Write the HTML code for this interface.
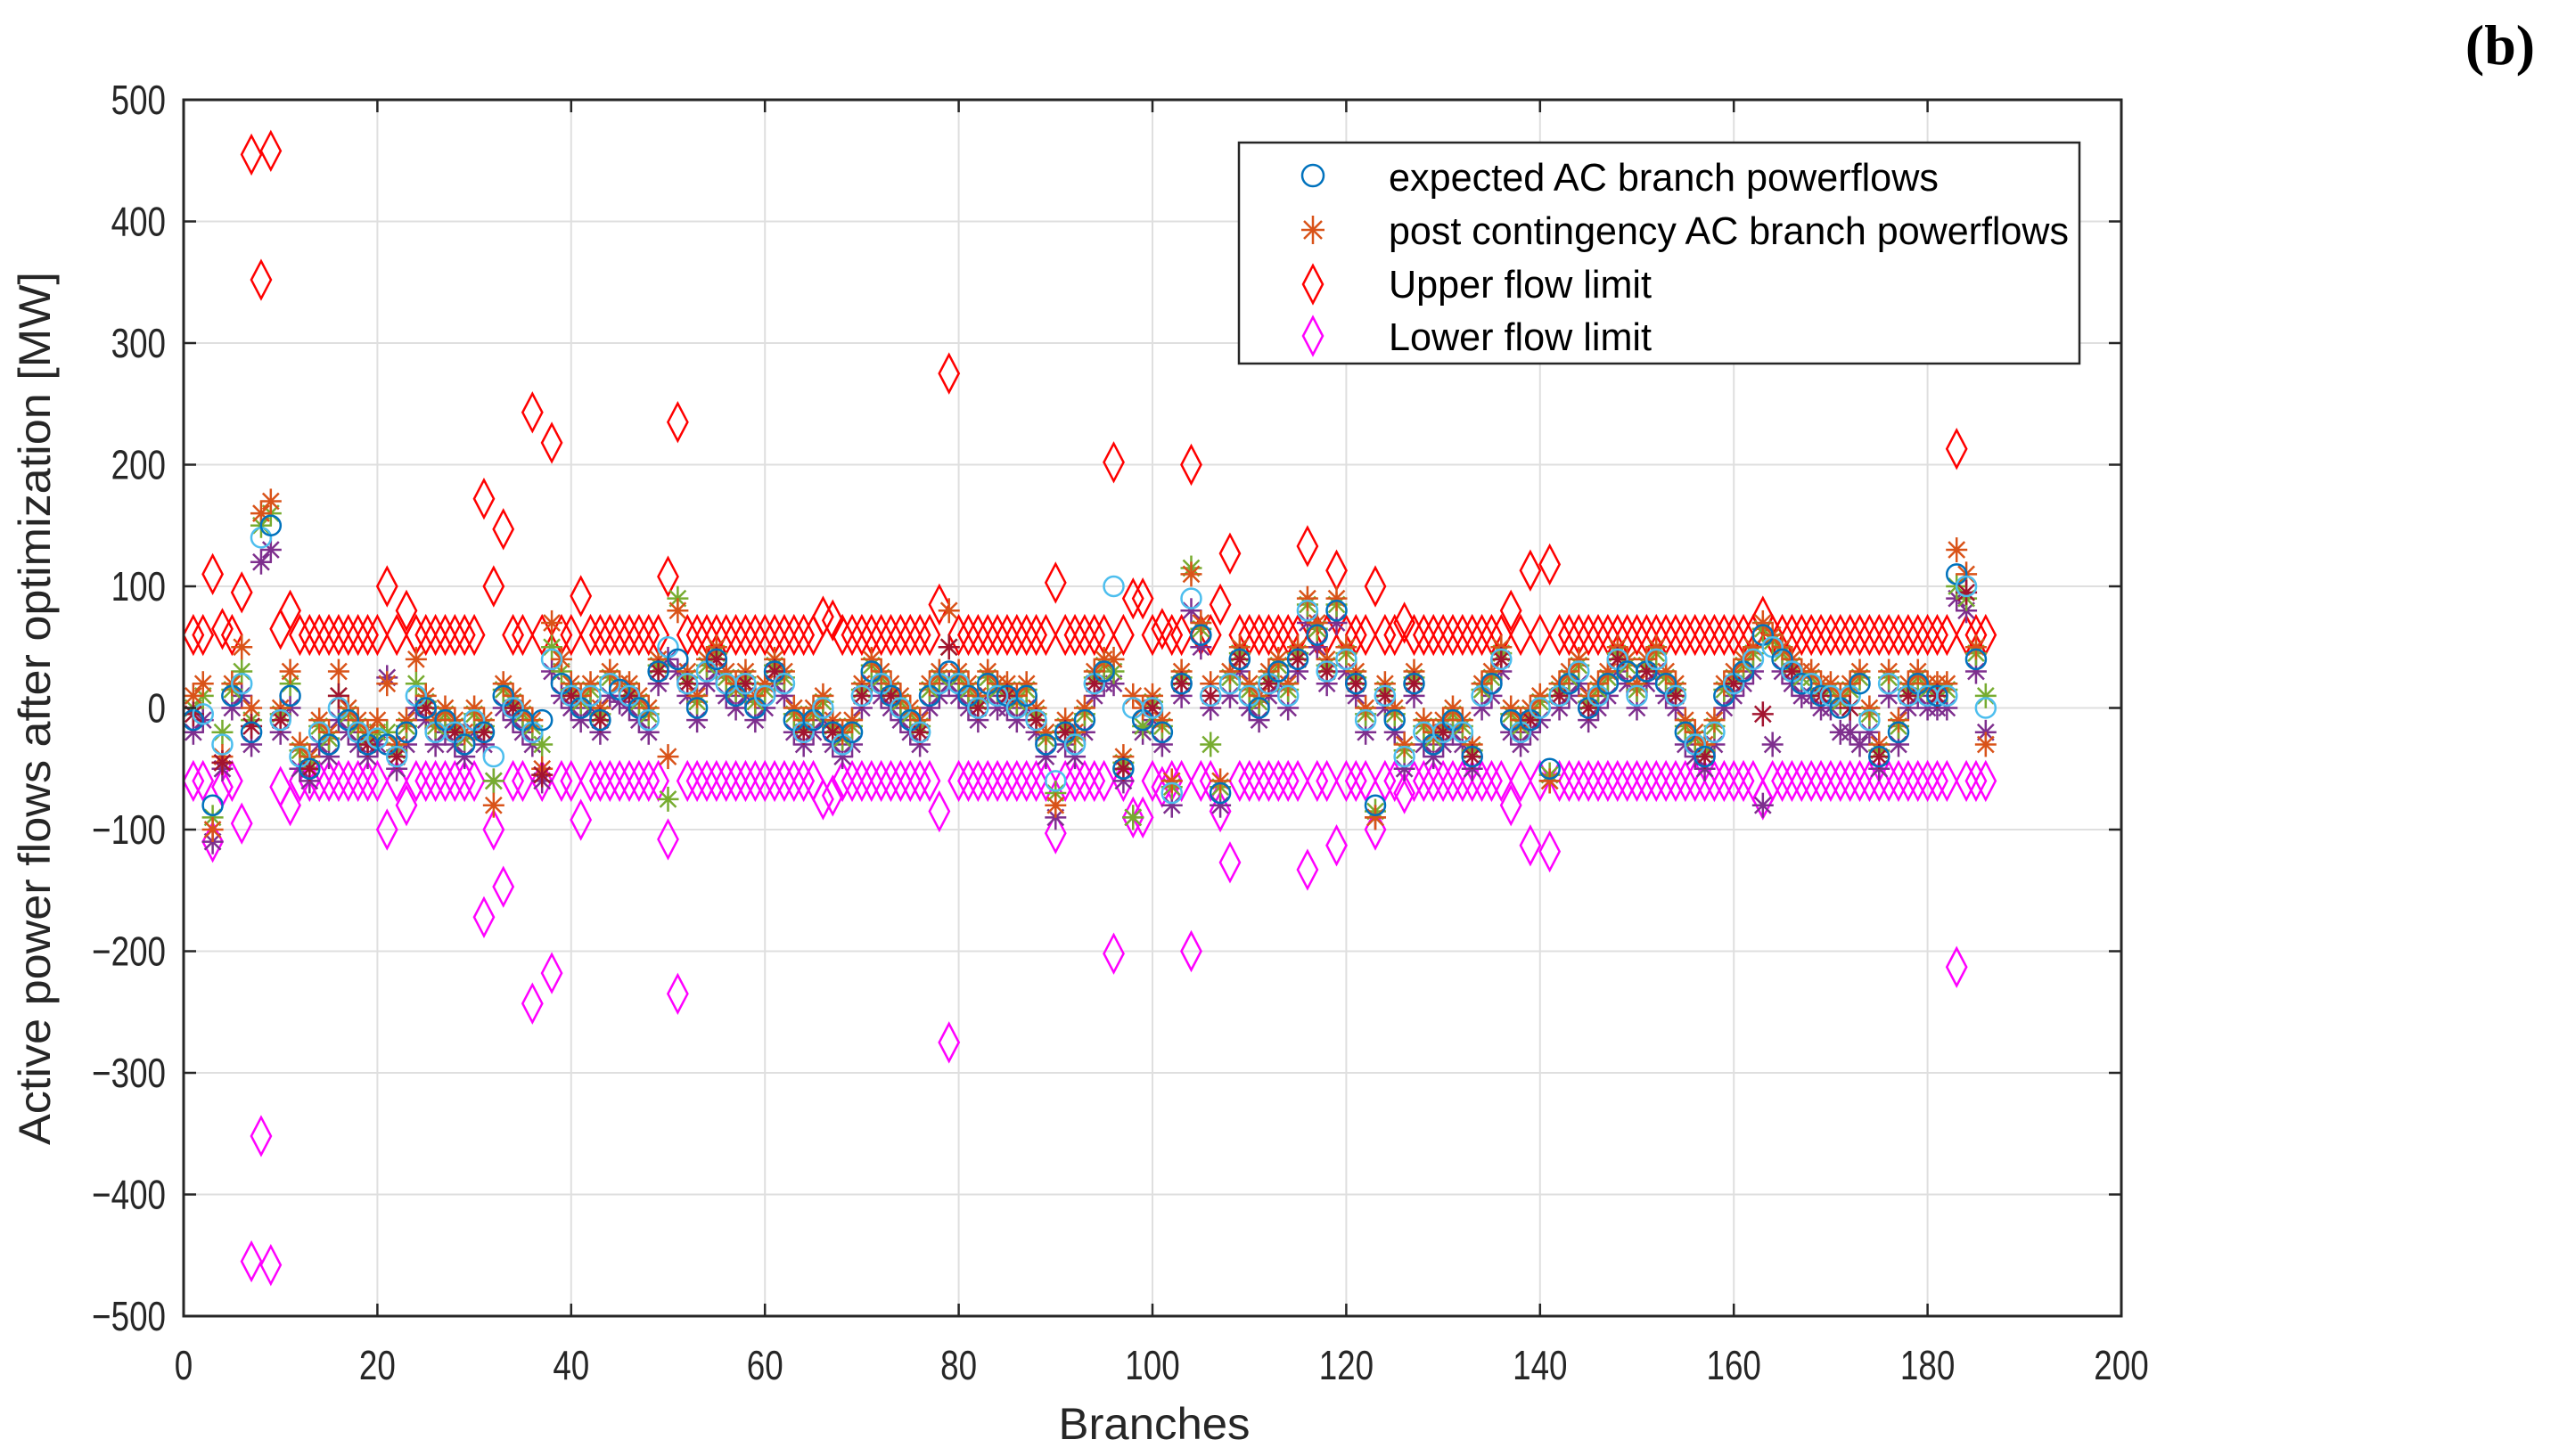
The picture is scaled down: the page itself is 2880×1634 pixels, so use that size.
<!DOCTYPE html>
<html><head><meta charset="utf-8"><style>
html,body{margin:0;padding:0;background:#fff;}
svg{display:block;font-family:"Liberation Sans",Arial,sans-serif;}
</style></head><body>
<svg id="chart" width="2880" height="1634" viewBox="0 0 2880 1634" xmlns="http://www.w3.org/2000/svg">
<rect width="2880" height="1634" fill="#fff"/>
<g id="grid"></g>
<g id="marks"></g>
<g id="axes"></g>
<text x="0" y="0" transform="translate(56,795) rotate(-90)" text-anchor="middle" font-size="50" fill="#262626" textLength="980" lengthAdjust="spacingAndGlyphs">Active power flows after optimization [MW]</text>
<text x="1295" y="1615" text-anchor="middle" font-size="50" fill="#262626" textLength="215" lengthAdjust="spacingAndGlyphs">Branches</text>
<text x="2805" y="72" text-anchor="middle" font-size="64" font-weight="bold" font-family="Liberation Serif,serif" fill="#000">(b)</text>
<g id="legend">
<rect x="1390" y="160" width="943" height="248" fill="#fff" stroke="#262626" stroke-width="2.5"/>
<circle cx="1473" cy="197" r="12" fill="none" stroke="#0072BD" stroke-width="2.5"/>
<g stroke="#D95319" stroke-width="2.5" transform="translate(1473,258)"><line x1="-13" y1="0" x2="13" y2="0"/><line x1="0" y1="-16" x2="0" y2="16"/><line x1="-10" y1="-10" x2="10" y2="10"/><line x1="-10" y1="10" x2="10" y2="-10"/></g>
<polygon points="1473,298 1484,319 1473,340 1462,319" fill="none" stroke="#FF0000" stroke-width="2.5"/>
<polygon points="1473,356 1484,377 1473,398 1462,377" fill="none" stroke="#FF00FF" stroke-width="2.5"/>
<text x="1558" y="214" font-size="44" fill="#000" textLength="617" lengthAdjust="spacingAndGlyphs">expected AC branch powerflows</text>
<text x="1558" y="274" font-size="44" fill="#000" textLength="763" lengthAdjust="spacingAndGlyphs">post contingency AC branch powerflows</text>
<text x="1558" y="334" font-size="44" fill="#000" textLength="295" lengthAdjust="spacingAndGlyphs">Upper flow limit</text>
<text x="1558" y="393" font-size="44" fill="#000" textLength="295" lengthAdjust="spacingAndGlyphs">Lower flow limit</text>
</g>
</svg>
<script>
const xTicks = [0,20,40,60,80,100,120,140,160,180,200];
const yTicks = [500,400,300,200,100,0,-100,-200,-300,-400,-500];
const yTickLabels = ["500","400","300","200","100","0","\u2212100","\u2212200","\u2212300","\u2212400","\u2212500"];
const upperExceptions = {3:110,4:65,6:95,7:455,8:352,9:458,10:65,11:80,21:100,23:80,31:172,32:100,33:147,36:243,38:218,41:92,50:108,51:235,66:75,67:72,78:85,79:275,90:103,96:202,98:90,99:90,101:65,104:200,107:85,108:127,116:133,119:113,123:100,126:70,137:80,139:113,141:118,163:75,183:213};
const expected = [-10,-5,-80,-30,10,20,-20,140,150,-10, 10,-40,-50,-20,-30,0,-10,-20,-30,-25, -30,-40,-20,10,0,-20,-10,-20,-30,-10, -20,-40,10,0,-10,-20,-10,40,20,10, 0,10,-10,20,15,10,0,-10,30,50, 40,20,0,30,40,20,10,20,0,10, 30,20,-10,-20,-10,0,-20,-30,-20,10, 30,20,10,0,-10,-20,10,20,30,20, 10,0,20,10,10,0,10,-10,-30,-60, -20,-30,-10,20,30,100,-50,0,-10,0, -20,-70,20,90,60,10,-70,20,40,10, 0,20,30,10,40,80,60,30,80,40, 20,-10,-80,10,-10,-40,20,-20,-30,-20, -10,-20,-40,10,20,40,-10,-20,-10,0, -50,10,20,30,0,10,20,40,30,10, 30,40,20,10,-20,-30,-40,-20,10,20, 30,40,60,50,40,30,20,20,10,10, 0,10,20,-10,-40,20,-20,10,20,10, 10,10,110,100,40,0];
const postA = [10,20,-100,-40,20,50,0,160,170,0, 30,-30,-40,-10,-20,30,0,-10,-20,-10, 20,-30,-10,40,10,-10,0,-10,-20,0, -10,-80,20,10,0,-10,-50,70,40,20, 10,20,0,30,20,20,10,0,40,-40, 80,30,10,40,50,30,20,30,10,20, 40,30,0,-10,0,10,-10,-20,-10,20, 40,30,20,10,0,-10,20,30,80,30, 20,10,30,20,20,10,20,0,-20,-80, -10,-20,0,30,40,40,-40,10,0,10, -10,-60,30,110,70,20,-60,30,50,20, 10,30,40,20,50,90,70,40,90,50, 30,0,-90,20,0,-30,30,-10,-20,-10, 0,-10,-30,20,30,50,0,-10,0,10, -60,20,30,40,10,20,30,50,40,20, 40,50,30,20,-10,-20,-30,-10,20,30, 40,50,70,60,50,40,30,30,20,20, 10,20,30,0,-30,30,-10,20,30,20, 20,20,130,110,50,-30];
const postB = [-20,-10,-110,-50,0,10,-30,120,130,-20, 0,-50,-60,-30,-40,-10,-20,-30,-40,-30, 25,-50,-30,0,-10,-30,-20,-30,-40,-20, -30,-60,0,-10,-20,-30,-60,30,10,0, -10,0,-20,10,5,0,-10,-20,20,40, 30,10,-10,20,30,10,0,10,-10,0, 20,10,-20,-30,-20,-10,-30,-40,-30,0, 20,10,0,-10,-20,-30,0,10,20,10, 0,-10,10,0,0,-10,0,-20,-40,-90, -30,-40,-20,10,20,20,-60,-90,-20,-10, -30,-80,10,80,50,0,-80,10,30,0, -10,10,20,0,30,70,50,20,70,30, 10,-20,-90,0,-20,-50,10,-30,-40,-30, -20,-30,-50,0,10,30,-20,-30,-20,-10, -60,0,10,20,-10,0,10,30,20,0, 20,30,10,0,-30,-40,-50,-30,0,10, 20,30,-80,-30,30,20,10,10,0,0, -20,-20,-30,-20,-50,10,-30,0,10,0, 0,0,90,80,30,-20];
const postC = [0,10,-90,-20,15,30,-10,150,160,-5, 20,-35,-45,-15,-25,10,-5,-15,-25,-20, -20,-35,-15,20,5,-15,-5,-15,-25,-5, -15,-60,15,5,-5,-15,-30,50,30,15, 5,15,-5,25,20,15,5,-5,35,-75, 90,25,5,35,45,25,15,25,5,15, 35,25,-5,-15,-5,5,-15,-25,-15,15, 35,25,15,5,-5,-15,15,25,50,25, 15,5,25,15,15,5,15,-5,-25,-70, -15,-25,-5,25,35,30,-45,-90,-15,5, -15,-65,25,115,65,-30,-65,25,45,15, 5,25,35,15,45,85,65,35,85,45, 25,-5,-85,15,-5,-35,25,-15,-25,-15, -5,-15,-35,15,25,45,-5,-15,-5,5, -55,15,25,35,5,15,25,45,35,15, 35,45,25,15,-15,-25,-35,-15,15,25, 35,45,65,55,45,35,25,25,15,15, 5,15,25,-5,-35,25,-15,15,25,15, 15,15,100,90,45,10];

const NS = "http://www.w3.org/2000/svg";
const L=206, R=2380, T=112, B=1477;
function xs(v){return L+(v-0)/(200-0)*(R-L);}
function ys(v){return B-(v+500)/1000*(B-T);}
function mk(tag,attrs,parent){const e=document.createElementNS(NS,tag);for(const k in attrs)e.setAttribute(k,attrs[k]);parent.appendChild(e);return e;}
const grid=document.getElementById('grid'), marks=document.getElementById('marks'), axes=document.getElementById('axes');

xTicks.forEach(t=>{
  const g=mk('line',{x1:xs(t),x2:xs(t),y1:T,y2:B,stroke:'#dfdfdf','stroke-width':2},grid);
  
  
  const tk=mk('line',{x1:xs(t),x2:xs(t),y1:B,y2:B-14,stroke:'#262626','stroke-width':2.5},axes);
  
  
  const tk2=mk('line',{x1:xs(t),x2:xs(t),y1:T,y2:T+14,stroke:'#262626','stroke-width':2.5},axes);
  
  
  const lb=mk('text',{x:xs(t),y:1548,'text-anchor':'middle','font-size':46,fill:'#262626'},axes);
  
  
  lb.textContent=String(t);
  lb.setAttribute('transform',`translate(${xs(t)},0) scale(0.8,1) translate(${-xs(t)},0)`);
});
yTicks.forEach((t,i)=>{
  const g=mk('line',{x1:L,x2:R,y1:ys(t),y2:ys(t),stroke:'#dfdfdf','stroke-width':2},grid);
  
  
  const tk=mk('line',{x1:L,x2:L+14,y1:ys(t),y2:ys(t),stroke:'#262626','stroke-width':2.5},axes);
  
  
  const tk2=mk('line',{x1:R,x2:R-14,y1:ys(t),y2:ys(t),stroke:'#262626','stroke-width':2.5},axes);
  
  
  const lb=mk('text',{x:186,y:ys(t)+16,'text-anchor':'end','font-size':46,fill:'#262626'},axes);
  
  
  lb.textContent=yTickLabels[i];
  lb.setAttribute('transform',`translate(186,0) scale(0.8,1) translate(-186,0)`);
});
const box=mk('rect',{x:L,y:T,width:R-L,height:B-T,fill:'none',stroke:'#262626','stroke-width':3},axes);



function diamond(x,y,color,name){
  const p=mk('polygon',{points:`${x},${y-21} ${x+11},${y} ${x},${y+21} ${x-11},${y}`,fill:'none',stroke:color,'stroke-width':2.5},marks);
  
  
}
function star(x,y,color){
  const g=mk('g',{stroke:color,'stroke-width':2.5,transform:`translate(${x},${y})`},marks);
  
  
  mk('line',{x1:-12,y1:0,x2:12,y2:0},g);mk('line',{x1:0,y1:-14,x2:0,y2:14},g);
  mk('line',{x1:-9,y1:-9,x2:9,y2:9},g);mk('line',{x1:-9,y1:9,x2:9,y2:-9},g);
}
const N=186;
for(let b=1;b<=N;b++){
  const u=upperExceptions[b]!==undefined?upperExceptions[b]:60;
  diamond(xs(b),ys(u),'#FF0000','upper-limit-point');
  diamond(xs(b),ys(-u),'#FF00FF','lower-limit-point');
}
const postSeries=[[postB,'#7E2F8E'],[postC,'#77AC30'],[postA,'#D95319']];
postSeries.forEach(([arr,col])=>{arr.forEach((v,i)=>star(xs(i+1),ys(v),col));});
postA.forEach((v,i)=>{ if(i%3===0) star(xs(i+1),ys((v+postB[i])/2),'#A2142F'); });
expected.forEach((v,i)=>{
  const c=mk('circle',{cx:xs(i+1),cy:ys(v),r:11,fill:'none',stroke:i%2?'#4DBEEE':'#0072BD','stroke-width':2.5},marks);
  
  
});
</script>
</body></html>
